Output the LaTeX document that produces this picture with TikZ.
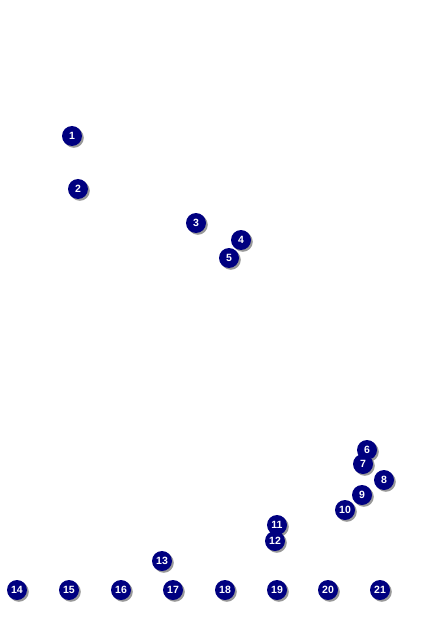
\documentclass[tikz,border=0pt]{standalone}
\usepackage{fontspec}
\setsansfont{Liberation Sans}
\usetikzlibrary{shadows}
\definecolor{ballblue}{RGB}{0,0,128}

\begin{document}
\begin{tikzpicture}[x=1pt, y=-1pt,
    ball/.style={circle, fill=ballblue, text=white, inner sep=0pt,
      minimum size=20pt, font=\sffamily\bfseries\fontsize{10.5}{10.5}\selectfont,
      drop shadow={shadow xshift=1.8pt, shadow yshift=-1.8pt, fill=black!50, opacity=0.8}}]
    \useasboundingbox (0, 0) rectangle (424, 636);
    \node[ball] (n1) at (72, 136) {1};
    \node[ball] (n2) at (78, 189) {2};
    \node[ball] (n3) at (196, 223) {3};
    \node[ball] (n4) at (241, 240) {4};
    \node[ball] (n5) at (229, 258) {5};
    \node[ball] (n6) at (367, 450) {6};
    \node[ball] (n7) at (363, 464) {7};
    \node[ball] (n8) at (384, 480) {8};
    \node[ball] (n9) at (362, 495) {9};
    \node[ball] (n10) at (345, 510) {10};
    \node[ball] (n11) at (277, 525) {11};
    \node[ball] (n12) at (275, 541) {12};
    \node[ball] (n13) at (162, 561) {13};
    \node[ball] (n14) at (17, 590) {14};
    \node[ball] (n15) at (69, 590) {15};
    \node[ball] (n16) at (121, 590) {16};
    \node[ball] (n17) at (173, 590) {17};
    \node[ball] (n18) at (225, 590) {18};
    \node[ball] (n19) at (277, 590) {19};
    \node[ball] (n20) at (328, 590) {20};
    \node[ball] (n21) at (380, 590) {21};
  \end{tikzpicture}
\end{document}
